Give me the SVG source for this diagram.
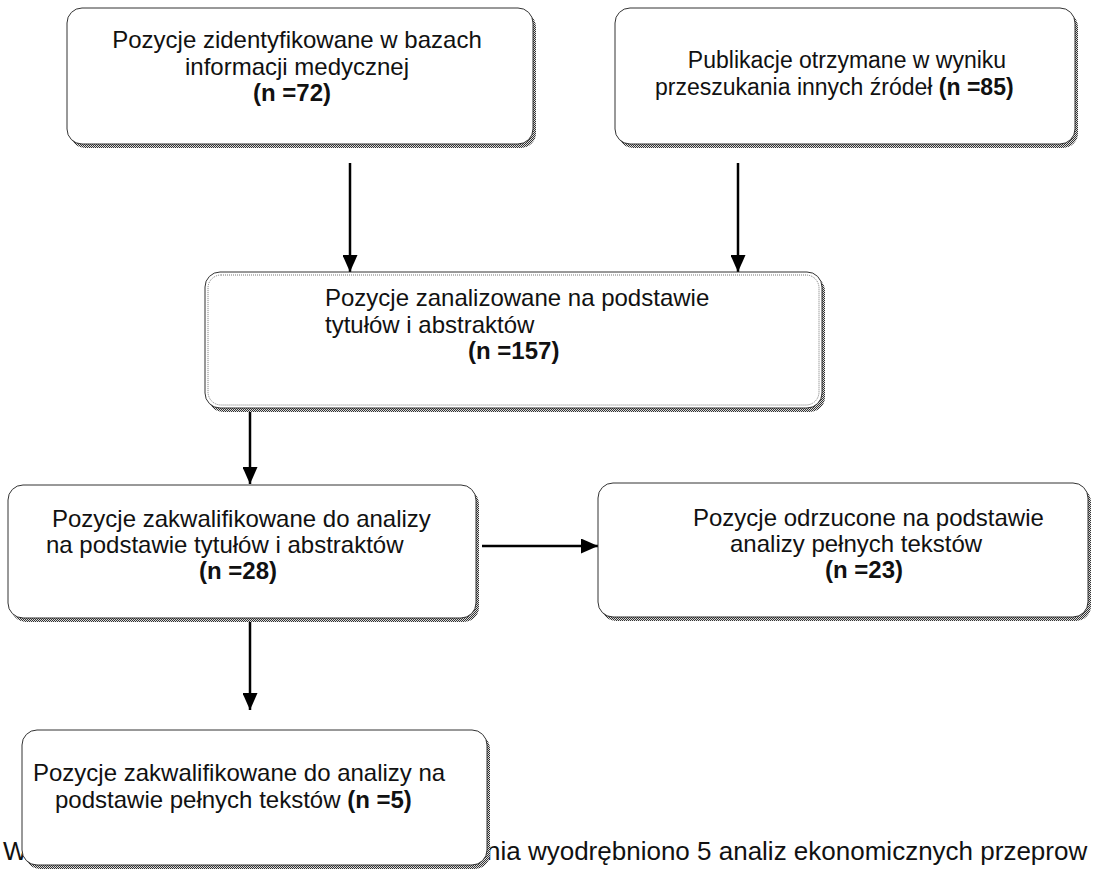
<svg xmlns="http://www.w3.org/2000/svg" width="1093" height="871" viewBox="0 0 1093 871">
<style>
.t{font-family:"Liberation Sans",Arial,sans-serif;font-size:24px;fill:#111}
.s23{font-size:23px}
.b{font-weight:bold}
.box{fill:#fff;stroke:#333;stroke-width:1}
.sh{fill:url(#dots)}
.inner{fill:none;stroke:#777;stroke-width:1;stroke-dasharray:1 1}
.conn{stroke:#000;stroke-width:2.5;fill:none;marker-end:url(#ah)}
</style>
<defs>
<pattern id="dots" width="2" height="2" patternUnits="userSpaceOnUse">
<rect width="2" height="2" fill="#ddd"/>
<rect width="1" height="1" fill="#333"/>
<rect x="1" y="1" width="1" height="1" fill="#333"/>
</pattern>
<marker id="ah" viewBox="0 0 17 15" refX="17" refY="7.5" markerWidth="17" markerHeight="15" markerUnits="userSpaceOnUse" orient="auto">
<path d="M0,0 L17,7.5 L0,15 Z" fill="#000"/>
</marker>
</defs>
<rect width="1093" height="871" fill="#fff"/>
<g id="footer">
<text class="t" x="3" y="860" style="font-size:26px">W</text>
<text class="t" x="486" y="860" style="font-size:26px">nia wyodrębniono 5 analiz ekonomicznych przeprow</text>
</g>
<g id="connectors">
<line class="conn" x1="350" y1="163" x2="350" y2="272"/>
<line class="conn" x1="738" y1="163" x2="738" y2="272"/>
<line class="conn" x1="250" y1="411" x2="250" y2="484"/>
<line class="conn" x1="482" y1="546" x2="598" y2="546"/>
<line class="conn" x1="250" y1="622" x2="250" y2="710"/>
</g>
<g id="n1">
<rect class="sh" x="70" y="12" width="466" height="136" rx="15"/>
<rect class="box" x="67" y="8" width="466" height="136" rx="15"/>
<text class="t" x="297" y="48" text-anchor="middle">Pozycje zidentyfikowane w bazach</text>
<text class="t" x="297" y="75" text-anchor="middle">informacji medycznej</text>
<text class="t b" x="292" y="101" text-anchor="middle">(n =72)</text>
</g>
<g id="n2">
<rect class="sh" x="618" y="12" width="460" height="136" rx="15"/>
<rect class="box" x="615" y="8" width="460" height="136" rx="15"/>
<text class="t s23" x="847" y="68" text-anchor="middle">Publikacje otrzymane w wyniku</text>
<text class="t s23" x="655" y="95">przeszukania innych źródeł <tspan class="b">(n =85)</tspan></text>
</g>
<g id="n3">
<rect class="sh" x="208" y="276" width="617" height="136" rx="15"/>
<rect class="box" x="205" y="272" width="617" height="136" rx="15"/>
<rect class="inner" x="208" y="275" width="611" height="130" rx="13"/>
<text class="t" x="325" y="306">Pozycje zanalizowane na podstawie</text>
<text class="t" x="325" y="333">tytułów i abstraktów</text>
<text class="t b" x="468" y="359">(n =157)</text>
</g>
<g id="n4">
<rect class="sh" x="11" y="489" width="468" height="133" rx="15"/>
<rect class="box" x="8" y="485" width="468" height="133" rx="15"/>
<text class="t" x="52" y="527">Pozycje zakwalifikowane do analizy</text>
<text class="t" x="46" y="553">na podstawie tytułów i abstraktów</text>
<text class="t b" x="199" y="579">(n =28)</text>
</g>
<g id="n5">
<rect class="sh" x="601" y="487" width="490" height="134" rx="15"/>
<rect class="box" x="598" y="483" width="490" height="134" rx="15"/>
<text class="t" x="693" y="526">Pozycje odrzucone na podstawie</text>
<text class="t" x="730" y="552">analizy pełnych tekstów</text>
<text class="t b" x="825" y="578">(n =23)</text>
</g>
<g id="n6">
<rect class="sh" x="25" y="734" width="465" height="135" rx="15"/>
<rect class="box" x="22" y="730" width="465" height="135" rx="15"/>
<text class="t" x="33" y="781">Pozycje zakwalifikowane do analizy na</text>
<text class="t" x="55" y="808">podstawie pełnych tekstów <tspan class="b">(n =5)</tspan></text>
</g>
</svg>
